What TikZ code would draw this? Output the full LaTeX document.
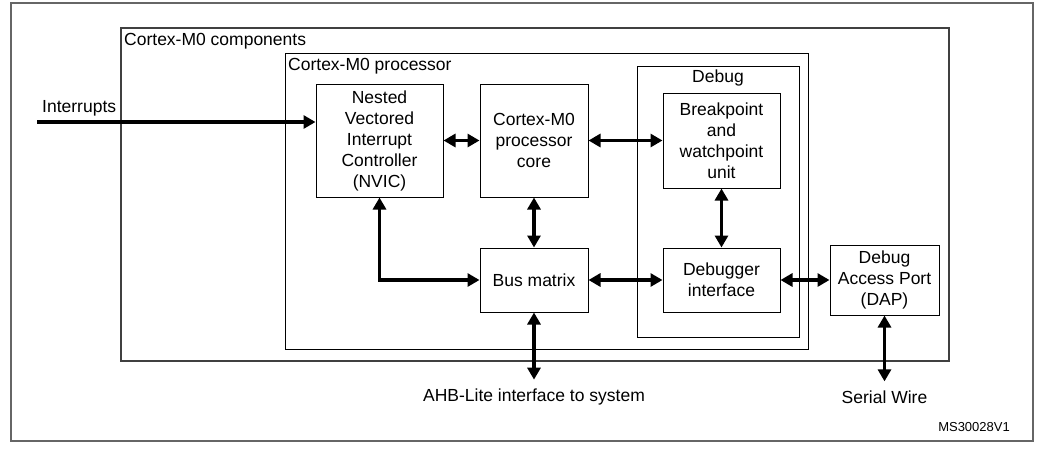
\documentclass[tikz,border=0pt]{standalone}
\usepackage{fontspec}
\setmainfont{Liberation Sans}
\usetikzlibrary{arrows.meta}

\begin{document}
\begin{tikzpicture}[
        x=1pt, y=-1pt,
        font=\fontsize{17.5}{21}\selectfont,
        block/.style={draw, line width=1pt, inner sep=0pt, align=center},
        group/.style={draw, line width=1pt, inner sep=0pt},
        tag/.style={inner sep=0pt, anchor=west},
        caption/.style={inner xsep=0pt, inner ysep=9pt},
        link/.style={line width=3.4pt, {Triangle[length=12pt,width=13pt]}-{Triangle[length=12pt,width=13pt]}},
        feed/.style={line width=3.4pt, -{Triangle[length=12pt,width=13pt]}},
    ]
    \useasboundingbox (0,0) rectangle (1039,448);

    % frames
    \node[group, draw=black!60, line width=1.3pt, minimum width=1022pt, minimum height=438pt] (frame) at (522,222) {};
    \node[group, draw=black!75, line width=1.2pt, minimum width=828pt, minimum height=333pt] (comp) at (535,194.5) {};
    \node[group, minimum width=523pt, minimum height=296pt] (proc) at (546.5,201) {};
    \node[group, minimum width=162pt, minimum height=271pt] (debug) at (718,201.5) {};

    \node[tag] (complbl) at (124,41) {Cortex-M0 components};
    \node[tag] (proclbl) at (288,66) {Cortex-M0 processor};
    \node[inner sep=0pt] (debuglbl) at (718,78) {Debug};

    % blocks
    \node[block, minimum width=127pt, minimum height=113pt] (nvic) at (379.5,140.5) {Nested\\Vectored\\Interrupt\\Controller\\(NVIC)};
    \node[block, minimum width=108pt, minimum height=113pt] (core) at (534,140.5) {Cortex-M0\\processor\\core};
    \node[block, minimum width=117pt, minimum height=95pt] (bpw) at (721.5,140.5) {Breakpoint\\and\\watchpoint\\unit};
    \node[block, minimum width=108pt, minimum height=64pt] (bus) at (534,280) {Bus matrix};
    \node[block, minimum width=117pt, minimum height=64pt] (dbgif) at (721.5,280) {Debugger\\interface};
    \node[block, minimum width=109pt, minimum height=70pt] (dap) at (884.5,280) {Debug\\Access Port\\(DAP)};

    % outside texts
    \coordinate (irq) at (37,122);
    \node[tag] (irqlbl) at (42,108) {Interrupts};
    \node[caption] (ahb) at (534,397) {AHB-Lite interface to system};
    \node[caption] (swire) at (884.5,397) {Serial Wire};
    \node[inner sep=0pt, anchor=east, font=\fontsize{13}{15}\selectfont] (ref) at (1010,427) {MS30028V1};

    % connections
    \draw[feed] (irq) -- (irq -| nvic.west);
    \draw[link] (nvic) -- (core);
    \draw[link] (core) -- (bpw);
    \draw[link] (core) -- (bus);
    \draw[link] (bpw) -- (dbgif);
    \draw[link] (nvic.south) |- (bus.west);
    \draw[link] (bus) -- (dbgif);
    \draw[link] (dbgif) -- (dap);
    \draw[link] (bus) -- (ahb);
    \draw[link] (dap) -- (swire);
\end{tikzpicture}
\end{document}
